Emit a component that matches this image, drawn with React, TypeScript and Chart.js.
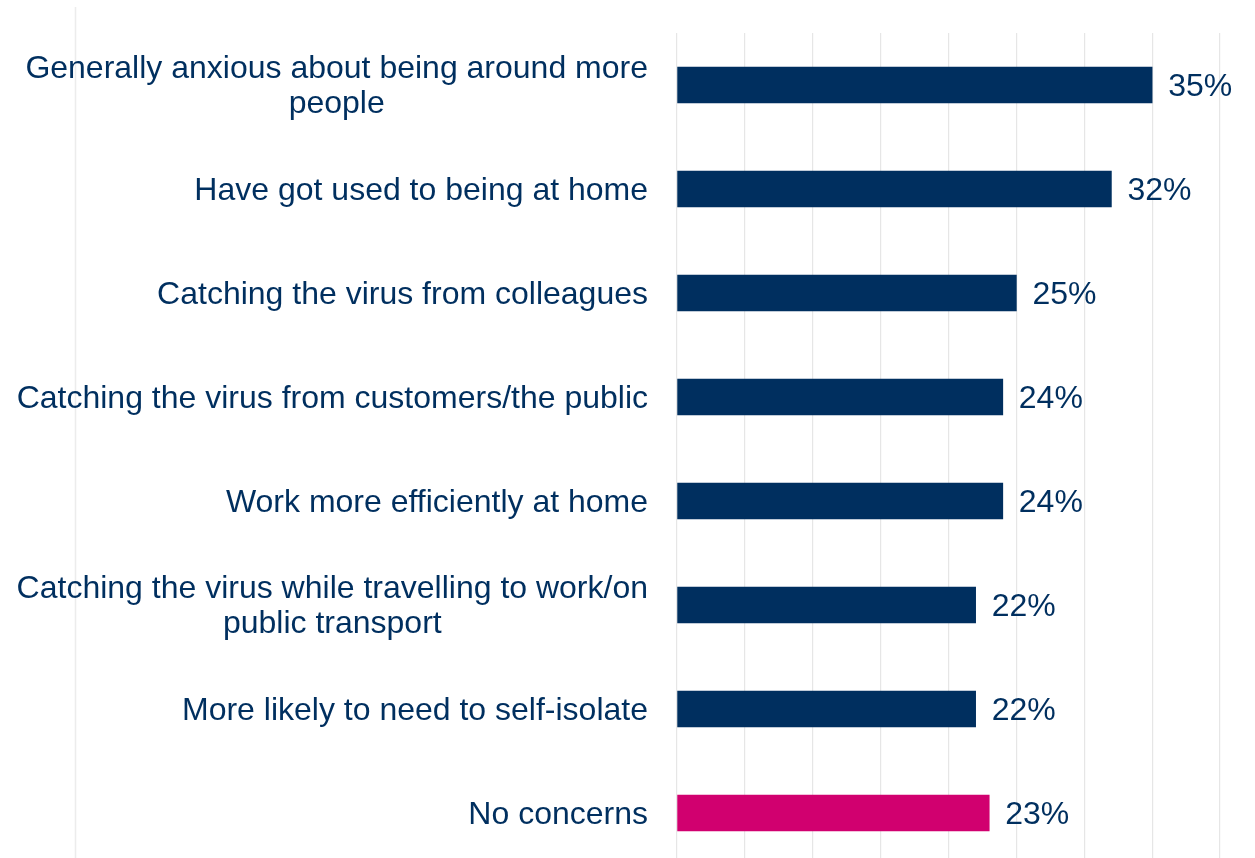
import { useEffect, useRef } from 'react';
import { Chart, registerables } from 'chart.js';

Chart.register(...registerables);

const categories: string[][] = [
  ['Generally anxious about being around more', 'people'],
  ['Have got used to being at home'],
  ['Catching the virus from colleagues'],
  ['Catching the virus from customers/the public'],
  ['Work more efficiently at home'],
  ['Catching the virus while travelling to work/on', 'public transport'],
  ['More likely to need to self-isolate'],
  ['No concerns'],
];
const values: number[] = [35, 32, 25, 24, 24, 22, 22, 23];
const NAVY = '#002F5F';
const PINK = '#D1006F';
const barColors: string[] = [NAVY, NAVY, NAVY, NAVY, NAVY, NAVY, NAVY, PINK];
const xMin = 0;
const xMax = 40;
const xStep = 5;

const FONT = '"Liberation Sans", Arial, Helvetica, sans-serif';
const FONT_SIZE = 32;
const LINE_H = 35;
const TEXT_DY = 2;

const labelPlugin = {
  id: 'customLabels',
  beforeDraw(chart: any) {
    const ctx = chart.ctx;
    ctx.save();
    ctx.strokeStyle = '#ECECEC';
    ctx.lineWidth = 1.5;
    ctx.beginPath();
    ctx.moveTo(75.5, 7);
    ctx.lineTo(75.5, chart.height);
    ctx.stroke();
    ctx.restore();
  },
  afterDatasetsDraw(chart: any) {
    const ctx = chart.ctx;
    const yScale = chart.scales.y;
    const xScale = chart.scales.x;
    const labelRight = chart.chartArea.left - 29;
    ctx.save();
    ctx.font = `${FONT_SIZE}px ${FONT}`;
    ctx.fillStyle = NAVY;
    ctx.textBaseline = 'middle';
    categories.forEach((lines, i) => {
      const yc = yScale.getPixelForValue(i) + TEXT_DY;
      const widths = lines.map((l) => ctx.measureText(l).width);
      const bw = Math.max(...widths);
      const cx = labelRight - bw / 2;
      ctx.textAlign = 'center';
      lines.forEach((l, j) => {
        ctx.fillText(l, cx, yc + (j - (lines.length - 1) / 2) * LINE_H);
      });
      ctx.textAlign = 'left';
      ctx.fillText(values[i] + '%', xScale.getPixelForValue(values[i]) + 16, yc);
    });
    ctx.restore();
  },
};

export default function App() {
  const ref = useRef<HTMLCanvasElement | null>(null);
  useEffect(() => {
    if (!ref.current) return;
    const chart = new Chart(ref.current, {
      type: 'bar',
      data: {
        labels: categories.map((c) => c.join(' ')),
        datasets: [
          {
            data: values,
            backgroundColor: barColors,
            borderWidth: 0,
            barThickness: 36,
          },
        ],
      },
      options: {
        indexAxis: 'y',
        animation: false,
        responsive: false,
        maintainAspectRatio: false,
        layout: { padding: { left: 677, right: 35, top: 33, bottom: 0 } },
        plugins: {
          legend: { display: false },
          tooltip: { enabled: false },
        },
        scales: {
          x: {
            type: 'linear',
            min: xMin,
            max: xMax,
            ticks: { display: false, stepSize: xStep },
            grid: { color: '#E6E6E6', lineWidth: 1.2, drawTicks: false },
            border: { display: false },
          },
          y: {
            type: 'category',
            display: false,
            offset: true,
          },
        },
      },
      plugins: [labelPlugin],
    });
    return () => chart.destroy();
  }, []);
  return (
    <div
      style={{
        position: 'fixed',
        left: 0,
        top: 0,
        width: 1255,
        height: 858,
        overflow: 'hidden',
        background: '#fff',
      }}
    >
      <canvas ref={ref} width={1255} height={865} style={{ display: 'block', width: 1255, height: 865 }} />
    </div>
  );
}
